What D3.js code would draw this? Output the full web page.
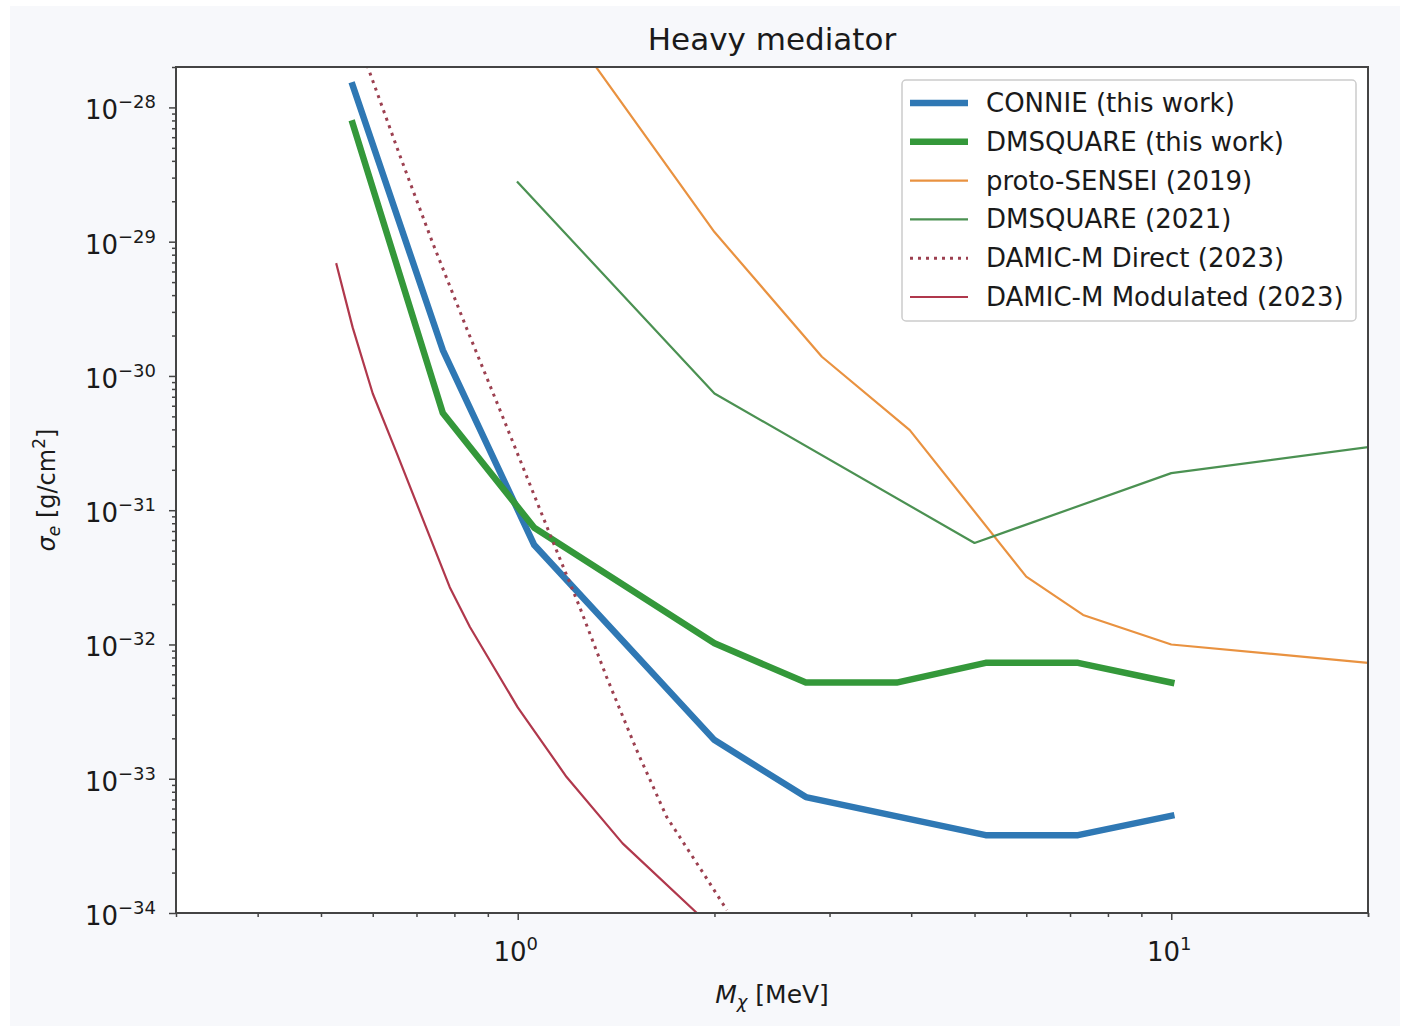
<!DOCTYPE html>
<html>
<head>
<meta charset="utf-8">
<script src="https://cdn.jsdelivr.net/npm/d3@7"></script>
<style>
  body { margin: 0; background: #ffffff; }
  text { font-family: "DejaVu Sans", sans-serif; fill: #1a1a1a; }
</style>
</head>
<body>
<svg id="chart" width="1406" height="1031"></svg>
<script>
// ---- Exclusion limits, heavy mediator: DM mass [MeV] vs sigma_e [cm^2] ----
const connieMass   = [0.559, 0.768, 1.06, 2.0, 2.76, 5.2, 7.2, 10];
const connieSigma  = [1.46e-28, 1.56e-30, 5.5e-32, 1.94e-33, 7.3e-34, 3.8e-34, 3.8e-34, 5.3e-34];

const dmsqMass     = [0.559, 0.768, 1.06, 2.0, 2.76, 3.8, 5.2, 7.2, 10];
const dmsqSigma    = [7.6e-29, 5.3e-31, 7.4e-32, 1.02e-32, 5.2e-33, 5.2e-33, 7.3e-33, 7.3e-33, 5.2e-33];

const senseiMass   = [1.0, 2.0, 2.92, 3.98, 6.0, 7.33, 10, 20];
const senseiSigma  = [1.3e-27, 1.18e-29, 1.39e-30, 3.95e-31, 3.2e-32, 1.66e-32, 1.0e-32, 7.3e-33];

const dmsq21Mass   = [1.0, 2.0, 5.0, 10, 20];
const dmsq21Sigma  = [2.77e-29, 7.4e-31, 5.7e-32, 1.89e-31, 2.95e-31];

const directMass   = [0.577, 0.66, 0.741, 0.835, 0.939, 1.119, 1.244, 1.368, 1.52, 1.69, 1.92, 2.09];
const directSigma  = [2.67e-28, 4.4e-29, 9.8e-30, 2.27e-30, 5.6e-31, 6.7e-32, 1.9e-32, 5.7e-33, 1.64e-33, 5.2e-34, 2.0e-34, 1.05e-34];

const modMass      = [0.528, 0.559, 0.600, 0.653, 0.787, 0.845, 1.0, 1.188, 1.447, 1.88];
const modSigma     = [6.8e-30, 2.3e-30, 7.4e-31, 2.66e-31, 2.67e-32, 1.35e-32, 3.4e-33, 1.03e-33, 3.3e-34, 1.0e-34];

const seriesNames  = ["CONNIE (this work)", "DMSQUARE (this work)", "proto-SENSEI (2019)",
                      "DMSQUARE (2021)", "DAMIC-M Direct (2023)", "DAMIC-M Modulated (2023)"];

const yMajorExp    = [-28, -29, -30, -31, -32, -33, -34];
const xMajorExp    = [0, 1];

// ---- styling ----
const styles = [
  { color: "#2f78b4", width: 6.5, dash: null },
  { color: "#34983a", width: 6.5, dash: null },
  { color: "#e99240", width: 2.2, dash: null },
  { color: "#4b9152", width: 2.2, dash: null },
  { color: "#9c4050", width: 3,   dash: "3,5" },
  { color: "#b0384c", width: 2.2, dash: null }
];

const massArrays  = [connieMass, dmsqMass, senseiMass, dmsq21Mass, directMass, modMass];
const sigmaArrays = [connieSigma, dmsqSigma, senseiSigma, dmsq21Sigma, directSigma, modSigma];
const series = seriesNames.map((name, i) => ({
  name,
  points: massArrays[i].map((m, j) => ({ m, s: sigmaArrays[i][j] })),
  ...styles[i]
}));

const svg = d3.select("#chart");
const plot = { left: 176, top: 67, right: 1368, bottom: 913 };

// figure background
svg.append("rect").attr("x", 10).attr("y", 6).attr("width", 1390).attr("height", 1020)
  .attr("fill", "#f7f8fb");
svg.append("rect").attr("x", plot.left).attr("y", plot.top)
  .attr("width", plot.right - plot.left).attr("height", plot.bottom - plot.top)
  .attr("fill", "#ffffff");

const x = d3.scaleLog().domain([0.3, 20]).range([plot.left, plot.right]);
const y = d3.scaleLog().domain([1e-34, 2e-28]).range([plot.bottom, plot.top]);

svg.append("clipPath").attr("id", "plotClip").append("rect")
  .attr("x", plot.left).attr("y", plot.top)
  .attr("width", plot.right - plot.left).attr("height", plot.bottom - plot.top);

// curves
const line = d3.line().x(d => x(d.m)).y(d => y(d.s));
const gLines = svg.append("g").attr("clip-path", "url(#plotClip)");
series.forEach(s => {
  gLines.append("path")
    .datum(s.points)
    .attr("d", line)
    .attr("fill", "none")
    .attr("stroke", s.color)
    .attr("stroke-width", s.width)
    .attr("stroke-dasharray", s.dash)
    .attr("stroke-linecap", s.dash ? "butt" : "square")
    .attr("stroke-linejoin", "round");
});

// ---- axes ----
const axisColor = "#444";
const xMinor = [];
[0.1, 1, 10].forEach(dec => { for (let k = 2; k <= 9; k++) { const v = k * dec; if (v >= 0.3 && v <= 20) xMinor.push(v); } });
xMinor.push(20);
const yMinor = [];
for (let e = -34; e < -27; e++) { for (let k = 2; k <= 9; k++) { const v = k * Math.pow(10, e); if (v >= 1e-34 && v <= 2e-28) yMinor.push(v); } }

function styleAxis(g) {
  g.select(".domain").remove();
  g.selectAll(".tick line").attr("stroke", axisColor).attr("stroke-width", 1.5);
  g.selectAll(".tick text").remove();
}

svg.append("g").attr("transform", `translate(0,${plot.bottom})`)
  .call(d3.axisBottom(x).tickValues(xMinor).tickSize(4).tickFormat(() => "")).call(styleAxis);
svg.append("g").attr("transform", `translate(0,${plot.bottom})`)
  .call(d3.axisBottom(x).tickValues(xMajorExp.map(e => Math.pow(10, e))).tickSize(7).tickFormat(() => "")).call(styleAxis);
svg.append("g").attr("transform", `translate(${plot.left},0)`)
  .call(d3.axisLeft(y).tickValues(yMinor).tickSize(4).tickFormat(() => "")).call(styleAxis);
svg.append("g").attr("transform", `translate(${plot.left},0)`)
  .call(d3.axisLeft(y).tickValues(yMajorExp.map(e => Math.pow(10, e))).tickSize(7).tickFormat(() => "")).call(styleAxis);

// spines
svg.append("rect").attr("x", plot.left).attr("y", plot.top)
  .attr("width", plot.right - plot.left).attr("height", plot.bottom - plot.top)
  .attr("fill", "none").attr("stroke", axisColor).attr("stroke-width", 2);

// tick labels (10^n)
function powLabel(g, exp, anchor) {
  const t = g.append("text").attr("text-anchor", anchor);
  t.append("tspan").attr("font-size", 26).text("10");
  t.append("tspan").attr("font-size", 18).attr("dy", -11).text(exp < 0 ? "\u2212" + (-exp) : String(exp));
  return t;
}
yMajorExp.forEach(e => {
  powLabel(svg, e, "end").attr("x", 156).attr("y", y(Math.pow(10, e)) + 12);
});
xMajorExp.forEach(e => {
  powLabel(svg, e, "middle").attr("x", x(Math.pow(10, e)) - 2).attr("y", 961);
});

// title and axis labels
const cx = (plot.left + plot.right) / 2;
svg.append("text").attr("x", cx).attr("y", 50).attr("text-anchor", "middle")
  .attr("font-size", 31).text("Heavy mediator");

const xl = svg.append("text").attr("x", cx).attr("y", 1003).attr("text-anchor", "middle").attr("font-size", 25);
xl.append("tspan").attr("font-style", "italic").text("M");
xl.append("tspan").attr("font-style", "italic").attr("font-size", 18).attr("dy", 5).text("\u03c7");
xl.append("tspan").attr("dy", -5).text(" [MeV]");

const yl = svg.append("text").attr("transform", `translate(55,${(plot.top + plot.bottom) / 2}) rotate(-90)`)
  .attr("text-anchor", "middle").attr("font-size", 24);
yl.append("tspan").attr("font-style", "italic").text("\u03c3");
yl.append("tspan").attr("font-style", "italic").attr("font-size", 17).attr("dy", 5).text("e");
yl.append("tspan").attr("dy", -5).text(" [g/cm");
yl.append("tspan").attr("font-size", 17).attr("dy", -10).text("2");
yl.append("tspan").attr("dy", 10).text("]");

// legend
const leg = { x: 902, y: 80, w: 454, h: 241, row0: 103, step: 38.8 };
svg.append("rect").attr("x", leg.x).attr("y", leg.y).attr("width", leg.w).attr("height", leg.h)
  .attr("rx", 4).attr("fill", "#ffffff").attr("fill-opacity", 0.85)
  .attr("stroke", "#cccccc").attr("stroke-width", 1.5);
series.forEach((s, i) => {
  const ry = leg.row0 + i * leg.step;
  svg.append("line").attr("x1", 910).attr("x2", 968).attr("y1", ry).attr("y2", ry)
    .attr("stroke", s.color).attr("stroke-width", s.width)
    .attr("stroke-dasharray", s.dash).attr("stroke-linecap", "butt");
  svg.append("text").attr("x", 986).attr("y", ry + 9).attr("font-size", 26).text(s.name);
});
</script>
</body>
</html>
